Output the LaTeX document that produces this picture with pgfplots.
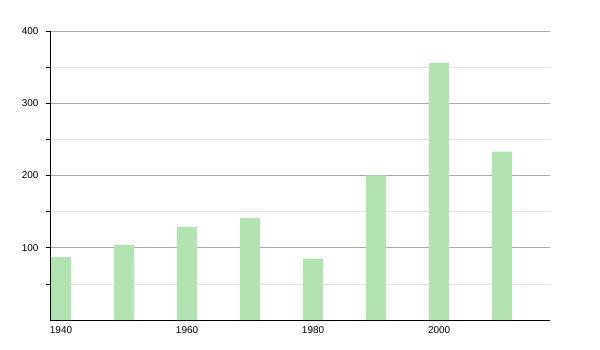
\documentclass[border=0pt]{standalone}
\usepackage{pgfplots}
\pgfplotsset{compat=1.18}
\usepackage{fontspec}
\setmainfont{Liberation Sans}
\definecolor{barg}{RGB}{178,228,178}
\definecolor{majg}{RGB}{170,170,170}
\definecolor{ming}{RGB}{228,228,228}
\begin{document}
\begin{tikzpicture}
\useasboundingbox (-50bp,-30bp) rectangle (550bp,320bp);
\begin{axis}[
  at={(0,0)}, anchor=south west,
  scale only axis, width=500bp, height=289bp,
  xmin=1938.25, xmax=2017.6, ymin=0, ymax=400,
  axis x line=bottom, axis y line=left,
  axis line style={-, black, line width=0.8pt},
  xtick={1940,1960,1980,2000},
  x tick style={draw=none},
  ytick={100,200,300,400},
  minor ytick={50,150,250,350},
  y tick style={black, line width=0.6pt},
  tick align=outside, major tick length=4bp, minor tick length=4bp,
  ymajorgrids, yminorgrids,
  major grid style={majg, line width=0.6pt},
  minor grid style={ming, line width=0.6pt},
  tick label style={font=\fontsize{10}{12}\selectfont},
  /pgf/number format/assume math mode=true,
  /pgf/number format/set thousands separator={},
  yticklabel style={xshift=-4bp},
  xticklabel style={yshift=1bp},
  axis on top=false,
]
\addplot[ybar, bar width=20bp, fill=barg, draw=none] coordinates {
(1940,87) (1950,104) (1960,129) (1970,141) (1980,85) (1990,200) (2000,356) (2010,233)
};
\end{axis}
\end{tikzpicture}
\end{document}
